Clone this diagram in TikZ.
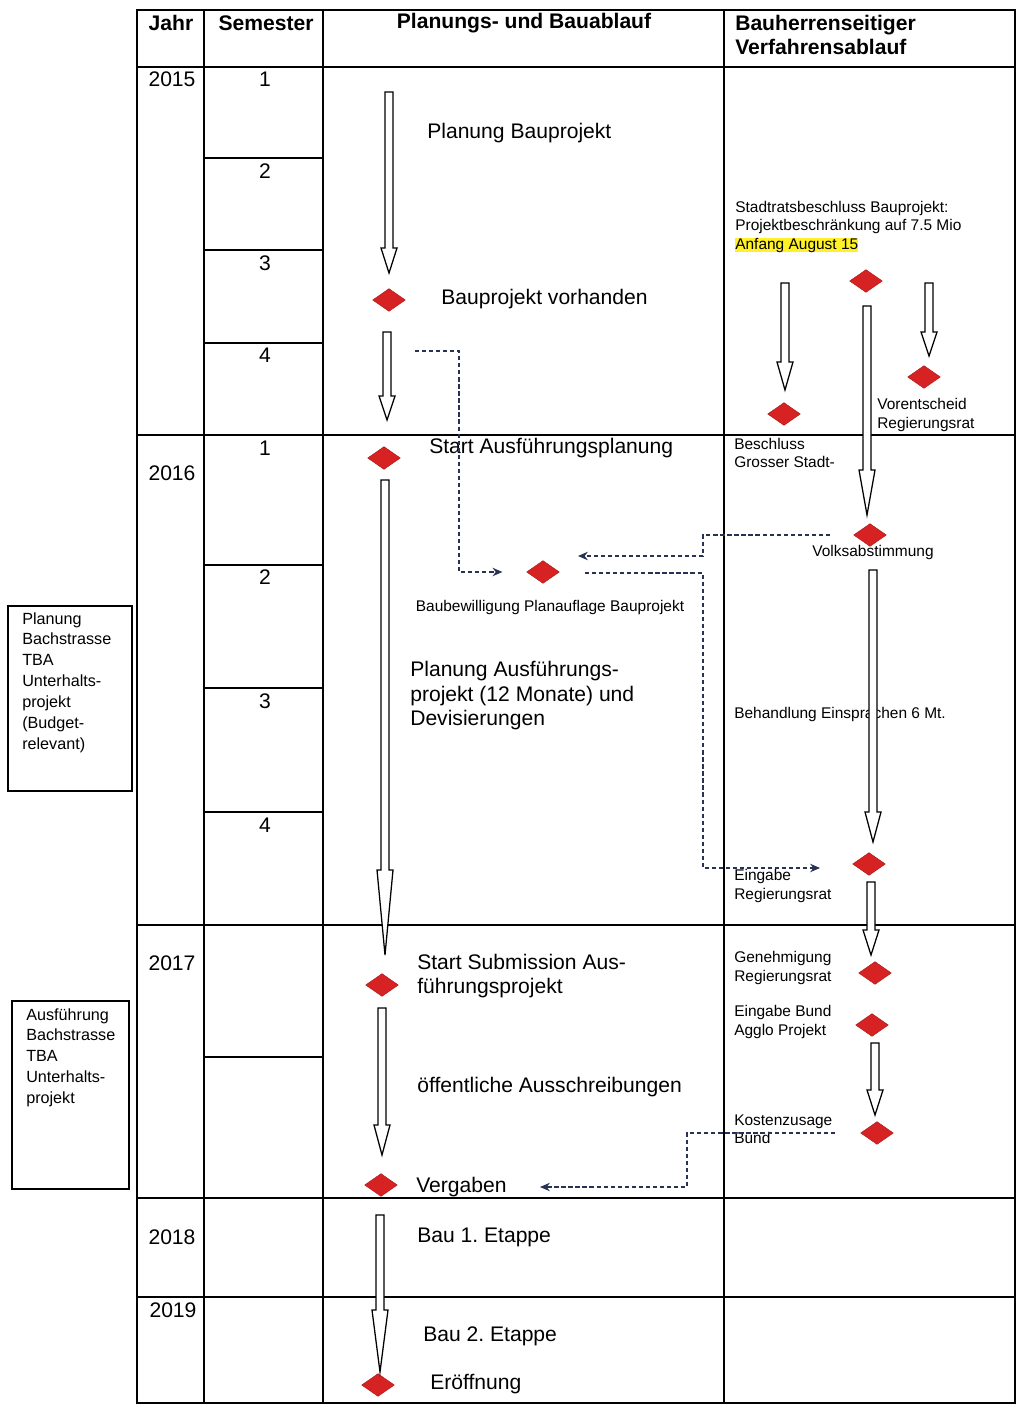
\documentclass[tikz,border=0pt]{standalone}
\usepackage{fontspec}
\setmainfont{Liberation Sans}
\usepackage{tikz}
\usetikzlibrary{positioning,shapes.geometric,arrows.meta}
\definecolor{milestone}{RGB}{214,34,34}
\definecolor{linkgray}{RGB}{40,50,85}
\definecolor{marker}{RGB}{255,240,40}

% hollow block arrow: x, top, head start, tip
\newcommand{\blockarrow}[4]{%
  \draw[hollow] (#1-4,#2) -- (#1+4,#2) -- (#1+4,#3) -- (#1+8,#3) -- (#1,#4) -- (#1-8,#3) -- (#1-4,#3) -- cycle;}

\begin{document}
\frenchspacing
\begin{tikzpicture}[
    x=0.025cm, y=-0.025cm,
    grid/.style={line width=1pt},
    ms/.style={diamond, fill=milestone, draw=milestone!80!black, line width=0.3pt,
                minimum width=0.82cm, minimum height=0.57cm, inner sep=0pt},
    big/.style={font=\fontsize{15}{17.4}\selectfont, inner sep=0pt, align=left},
    small/.style={font=\fontsize{11}{13}\selectfont, inner sep=0pt, align=left},
    head/.style={font=\bfseries\fontsize{15}{17}\selectfont, inner sep=0pt, align=left},
    side/.style={font=\fontsize{11.5}{14.9}\selectfont, inner sep=0pt, align=left},
    hollow/.style={draw, line width=0.9pt, fill=white},
    link/.style={densely dashed, draw=linkgray, line width=0.75pt},
    linkarrow/.style={link, -{Stealth[length=7pt,width=6pt]}}
]
    \useasboundingbox (0,0) rectangle (1017,1405);

    % Table
    \draw[grid] (137,10) rectangle (1015,1403);
    \draw[grid] (204,10) -- (204,1403) (323,10) -- (323,1403) (724,10) -- (724,1403);
    \foreach \y in {67,435,925,1198,1297}
        \draw[grid] (137,\y) -- (1015,\y);
    \foreach \y in {158,250,343,565,688,812,1057}
        \draw[grid] (204,\y) -- (323,\y);

    % Headers
    \node[head] (hjahr) at (171,23) {Jahr};
    \node[head] (hsem) at (266,23) {Semester};
    \node[head] (hplan) at (524,23) {Planungs- und Bauablauf};
    \node[head, anchor=west] (hbau) at (735,35) {Bauherrenseitiger\\Verfahrensablauf};

    % Years and semesters
    \node[big] (y15) at (172,79) {2015};
    \node[big] (y16) at (172,473) {2016};
    \node[big] (y17) at (172,963) {2017};
    \node[big] (y18) at (172,1237) {2018};
    \node[big] (y19) at (173,1310) {2019};
    \foreach \n/\y in {1/79,2/171,3/263,4/355}
        \node[big] (sa\n) at (265,\y) {\n};
    \foreach \n/\y in {1/448,2/577,3/701,4/825}
        \node[big] (sb\n) at (265,\y) {\n};

    % Side boxes
    \draw[line width=1pt] (8,606) rectangle (132,791);
    \node[side, anchor=north west] (planbox) at (22,612) {Planung\\Bachstrasse\\TBA\\Unterhalts-\\projekt\\(Budget-\\relevant)};
    \draw[line width=1pt] (12,1001) rectangle (129,1189);
    \node[side, anchor=north west] (ausbox) at (26,1008) {Ausführung\\Bachstrasse\\TBA\\Unterhalts-\\projekt};

    % Planungs- und Bauablauf
    \node[big, anchor=west] (tplan) at (427,133) {Planung Bauprojekt};
    \node[ms] (bp) at (389,300) {};
    \node[big, anchor=west] (tbp) at (441,299) {Bauprojekt vorhanden};
    \node[ms] (sa) at (384,458) {};
    \node[big, anchor=west] (tsa) at (429,448) {Start Ausführungsplanung};
    \node[ms] (bew) at (543,572) {};
    \node[small] (tbew) at (550,607) {Baubewilligung Planauflage Bauprojekt};
    \node[big, anchor=west] (tpa) at (410,696) {Planung Ausführungs-\\projekt (12 Monate) und\\Devisierungen};
    \node[ms] (sub) at (382,985) {};
    \node[big, anchor=west] (tsub) at (417,976) {Start Submission Aus-\\führungsprojekt};
    \node[big, anchor=west] (toa) at (417,1087) {öffentliche Ausschreibungen};
    \node[ms] (verg) at (381,1185) {};
    \node[big, anchor=west] (tverg) at (416,1187) {Vergaben};
    \node[big, anchor=west] (tb1) at (417,1237) {Bau 1. Etappe};
    \node[big, anchor=west] (tb2) at (423,1336) {Bau 2. Etappe};
    \node[ms] (eroe) at (378,1385) {};
    \node[big, anchor=west] (teroe) at (430,1384) {Eröffnung};

    % Bauherrenseitiger Verfahrensablauf
    \node[small, anchor=west] (tsrb) at (735,227) {Stadtratsbeschluss Bauprojekt:\\Projektbeschränkung auf 7.5 Mio\\{\setlength{\fboxsep}{0pt}\colorbox{marker}{Anfang August 15}}};
    \node[ms] (srb) at (866,281) {};
    \node[ms] (gs) at (784,414) {};
    \node[ms] (vor) at (924,377) {};
    \node[small, anchor=west] (tvor) at (877,415) {Vorentscheid\\Regierungsrat};
    \node[small, anchor=west] (tgs) at (734,453) {Beschluss\\Grosser Stadt-};
    \node[ms] (volk) at (870,535) {};
    \node[small] (tvolk) at (873,552) {Volksabstimmung};
    \node[small, anchor=west] (tbeh) at (734,714) {Behandlung Einsprachen 6 Mt.};
    \node[ms] (ein) at (869,864) {};
    \node[small, anchor=west] (tein) at (734,886) {Eingabe\\Regierungsrat};
    \node[ms] (gen) at (875,973) {};
    \node[small, anchor=west] (tgen) at (734,968) {Genehmigung\\Regierungsrat};
    \node[ms] (agg) at (872,1025) {};
    \node[small, anchor=west] (tagg) at (734,1022) {Eingabe Bund\\Agglo Projekt};
    \node[ms] (kost) at (877,1133) {};
    \node[small, anchor=west] (tkost) at (734,1129) {Kostenzusage\\Bund};

    % Block arrows
    \blockarrow{389}{92}{248}{273}
    \blockarrow{387}{332}{396}{420}
    \blockarrow{385}{480}{870}{955}
    \blockarrow{382}{1008}{1125}{1155}
    \blockarrow{380}{1215}{1310}{1372}
    \blockarrow{785}{283}{362}{390}
    \blockarrow{929}{283}{332}{356}
    \blockarrow{867}{306}{470}{515}
    \blockarrow{873}{570}{812}{842}
    \blockarrow{871}{882}{930}{955}
    \blockarrow{875}{1043}{1090}{1115}

    % Dashed links
    \coordinate (l1) at (415,351);
    \coordinate (v1) at (830,535);
    \coordinate (v2) at (578,556);
    \coordinate (b1) at (585,573);
    \coordinate (e1) at (820,868);
    \coordinate (k1) at (835,1133);
    \coordinate (k2) at (540,1187);
    \draw[linkarrow, shorten >=0.6cm] (l1) -| (459,572) -- (bew.west);
    \draw[linkarrow] (v1) -| (703,556) -- (v2);
    \draw[linkarrow] (b1) -| (703,868) -- (e1);
    \draw[linkarrow] (k1) -| (687,1187) -- (k2);
\end{tikzpicture}
\end{document}
